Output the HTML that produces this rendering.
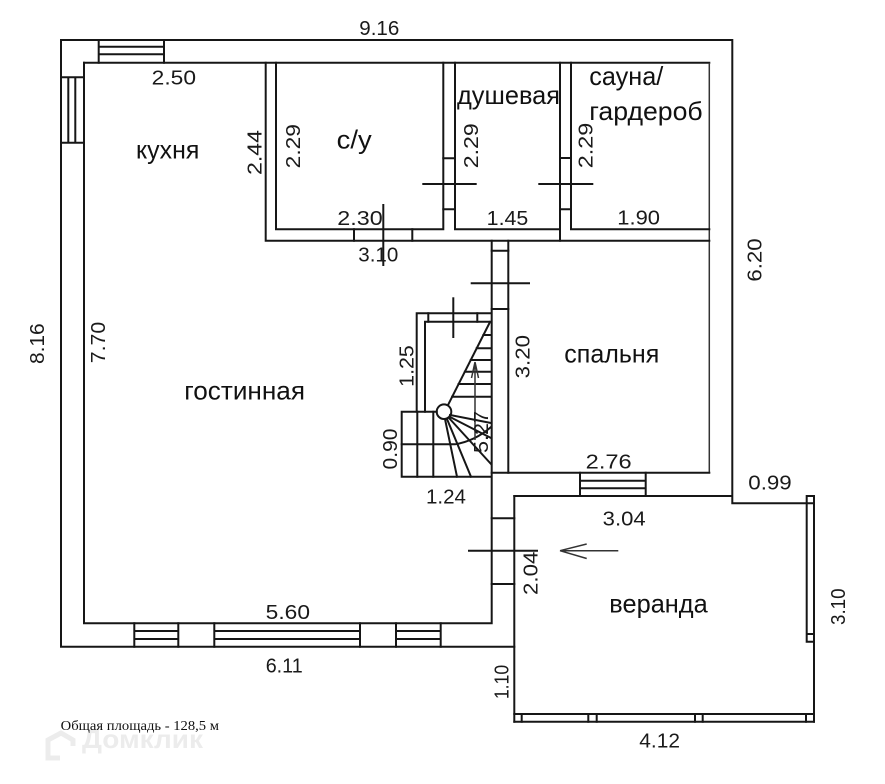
<!DOCTYPE html>
<html>
<head>
<meta charset="utf-8">
<style>
html,body{margin:0;padding:0;background:#fff;}
svg{display:block;}
.w{stroke:#161616;stroke-width:2;fill:none;stroke-linecap:square;}
.t{stroke:#333;stroke-width:1.5;fill:none;}
.d{font-family:"Liberation Sans","DejaVu Sans",sans-serif;font-size:20px;fill:#1a1a1a;}
.r{font-family:"Liberation Sans","Noto Sans CJK SC",sans-serif;font-size:26px;fill:#111;}
</style>
</head>
<body>
<svg width="885" height="784" viewBox="0 0 885 784" xmlns="http://www.w3.org/2000/svg">
<rect width="885" height="784" fill="#fff"/>

<!-- watermark -->
<g fill="none" stroke="#ececec" stroke-width="5">
  <path d="M48,746 L48,740 L61,733 L73,740 L73,746 M48,746 L48,758 L60,758"/>
</g>
<text x="82" y="748" font-family="Liberation Sans, sans-serif" font-weight="bold" font-size="26" fill="#ececec" textLength="121" lengthAdjust="spacingAndGlyphs">Домклик</text>

<!-- outer walls -->
<path class="w" d="M61,40 H732.3 V503.3 H814"/>
<path class="w" d="M61,40 V646.7 H514.3"/>
<path class="w" d="M84,62.7 H709.3"/>
<path class="w" d="M84,62.7 V623.3 H491.7 V240.7"/>
<path class="t" d="M709.3,62.7 V472.7"/>
<path class="w" d="M491.7,472.7 H709.3"/>
<path class="w" d="M508.3,240.7 V472.7"/>

<!-- kitchen / wc wall -->
<path class="w" d="M265.7,62.7 V240.7 H709.3"/>
<path class="w" d="M276,62.7 V229.3 H443.3 V62.7"/>
<path class="w" d="M455,62.7 V229.3 H560 V62.7"/>
<path class="w" d="M560,229.3 V240.7"/>
<path class="w" d="M571,62.7 V229.3 H709.3"/>
<!-- door ticks -->
<path class="w" d="M443.3,158.3 H455 M443.3,209.3 H455 M560,158 H571 M560,209.3 H571"/>
<path class="w" d="M423.3,184 H475.7 M539.3,184 H592.3"/>
<path class="w" d="M354,229.3 V240.7 M412.3,229.3 V240.7"/>
<path class="w" d="M383.3,205 V265"/>
<path class="w" d="M491.7,250.7 H508.3 M491.7,309 H508.3"/>
<path class="w" d="M471.7,283.3 H529"/>

<!-- windows -->
<path class="w" d="M98.7,40 V62.7 M164,40 V62.7 M98.7,46.7 H164 M98.7,54.3 H164"/>
<path class="w" d="M61,77.3 H84 M61,142.7 H84 M68.3,77.3 V142.7 M75.3,77.3 V142.7"/>
<path class="w" d="M134.3,623.3 V646.7 M178.3,623.3 V646.7 M134.3,631 H178.3 M134.3,639 H178.3"/>
<path class="w" d="M214.3,623.3 V646.7 M360,623.3 V646.7 M214.3,631 H360 M214.3,639 H360"/>
<path class="w" d="M396,623.3 V646.7 M440.7,623.3 V646.7 M396,631 H440.7 M396,639 H440.7"/>
<path class="w" d="M580,472.7 V496 M645.7,472.7 V496 M580,480.7 H645.7 M580,488.3 H645.7"/>

<!-- veranda -->
<path class="w" d="M514.3,496 H731.7"/>
<path class="w" d="M514.3,496 V721.7"/>
<path class="w" d="M491.7,518.3 H514.3 M491.7,584 H514.3"/>
<path class="w" d="M469,550.7 H537"/>
<path class="w" d="M806.7,496 H814 M806.7,496 V641.7 M814,496 V721.7 M806.7,634 H814 M806.7,641.7 H814"/>
<path class="w" d="M514.3,714 H814 M514.3,721.7 H814"/>
<path class="w" d="M521.7,714 V721.7 M588.3,714 V721.7 M596.7,714 V721.7 M695,714 V721.7 M702.7,714 V721.7 M806,714 V721.7"/>
<path class="t" d="M618.3,550.7 H560 M560,550.7 L586.7,544 M560,550.7 L586.7,558.5"/>

<!-- stairs -->
<path class="w" d="M416.7,411.7 V313.3 H491"/>
<path class="w" d="M425,411.7 V321.7 H491"/>
<path class="w" d="M428.3,313.3 V321.7 M477.3,313.3 V321.7"/>
<path class="w" d="M453.3,298.3 V337"/>
<path class="w" d="M490,322 L448,405"/>
<path class="w" d="M483.4,335 H491 M476.7,348.3 H491 M470.8,360 H491 M464.9,371.7 H491 M458.6,384 H491 M452.2,396.7 H491"/>
<circle cx="444" cy="411.7" r="7.3" fill="#fff" stroke="#161616" stroke-width="2"/>
<path class="w" d="M401.7,411.7 H436.7 M401.7,411.7 V476.7 H491"/>
<path class="w" d="M417.3,411.7 V476.7 M433.3,411.7 V476.7"/>
<path class="w" d="M401.7,444.3 H455 Q475,441 491,427"/>
<path class="w" d="M450,415 L491,423 M450,417 L491,438 M449,418 L491,464 M447,419 L471,476.7 M445,419 L457,476.7"/>
<path class="t" d="M475,362 V440 M475,362 L471.5,378 M475,362 L478.5,378"/>

<!-- horizontal dimension labels -->
<text class="d" x="359.3" y="35" textLength="40" lengthAdjust="spacingAndGlyphs">9.16</text>
<text class="d" x="151.7" y="84.3" textLength="44.3" lengthAdjust="spacingAndGlyphs">2.50</text>
<text class="d" x="337.3" y="225" textLength="45.4" lengthAdjust="spacingAndGlyphs">2.30</text>
<text class="d" x="486.7" y="225" textLength="41.6" lengthAdjust="spacingAndGlyphs">1.45</text>
<text class="d" x="617.3" y="224.5" textLength="42.7" lengthAdjust="spacingAndGlyphs">1.90</text>
<text class="d" x="358.3" y="261.7" textLength="40" lengthAdjust="spacingAndGlyphs">3.10</text>
<text class="d" x="585.7" y="468.3" textLength="46" lengthAdjust="spacingAndGlyphs">2.76</text>
<text class="d" x="426" y="503.3" textLength="40" lengthAdjust="spacingAndGlyphs">1.24</text>
<text class="d" x="748.3" y="489.3" textLength="43.4" lengthAdjust="spacingAndGlyphs">0.99</text>
<text class="d" x="602.7" y="525.7" textLength="43" lengthAdjust="spacingAndGlyphs">3.04</text>
<text class="d" x="265.7" y="619" textLength="44.3" lengthAdjust="spacingAndGlyphs">5.60</text>
<text class="d" x="265.7" y="672.3" textLength="37" lengthAdjust="spacingAndGlyphs">6.11</text>
<text class="d" x="639.3" y="747.3" textLength="40.7" lengthAdjust="spacingAndGlyphs">4.12</text>

<!-- vertical dimension labels -->
<text class="d" text-anchor="middle" transform="translate(261.7,152.5) rotate(-90)" textLength="45" lengthAdjust="spacingAndGlyphs">2.44</text>
<text class="d" text-anchor="middle" transform="translate(300,146.2) rotate(-90)" textLength="44.3" lengthAdjust="spacingAndGlyphs">2.29</text>
<text class="d" text-anchor="middle" transform="translate(478,145.8) rotate(-90)" textLength="45" lengthAdjust="spacingAndGlyphs">2.29</text>
<text class="d" text-anchor="middle" transform="translate(592.5,145.5) rotate(-90)" textLength="45.6" lengthAdjust="spacingAndGlyphs">2.29</text>
<text class="d" text-anchor="middle" transform="translate(761.7,260) rotate(-90)" textLength="43.4" lengthAdjust="spacingAndGlyphs">6.20</text>
<text class="d" text-anchor="middle" transform="translate(44,343.7) rotate(-90)" textLength="40.7" lengthAdjust="spacingAndGlyphs">8.16</text>
<text class="d" text-anchor="middle" transform="translate(105,342.5) rotate(-90)" textLength="41.6" lengthAdjust="spacingAndGlyphs">7.70</text>
<text class="d" text-anchor="middle" transform="translate(413.5,366) rotate(-90)" textLength="41.7" lengthAdjust="spacingAndGlyphs">1.25</text>
<text class="d" text-anchor="middle" transform="translate(529.5,356.7) rotate(-90)" textLength="43.3" lengthAdjust="spacingAndGlyphs">3.20</text>
<text class="d" text-anchor="middle" transform="translate(397,449) rotate(-90)" textLength="41" lengthAdjust="spacingAndGlyphs">0.90</text>
<text class="d" text-anchor="middle" transform="translate(488,432) rotate(-90)" textLength="42" lengthAdjust="spacingAndGlyphs">5.27</text>
<text class="d" text-anchor="middle" transform="translate(537.3,573.3) rotate(-90)" textLength="43.3" lengthAdjust="spacingAndGlyphs">2.04</text>
<text class="d" text-anchor="middle" transform="translate(845,606.7) rotate(-90)" textLength="36.7" lengthAdjust="spacingAndGlyphs">3.10</text>
<text class="d" text-anchor="middle" transform="translate(508.3,682) rotate(-90)" textLength="34.3" lengthAdjust="spacingAndGlyphs">1.10</text>

<!-- room labels -->
<text class="r" x="136" y="158.3" textLength="63.3" lengthAdjust="spacingAndGlyphs">кухня</text>
<text class="r" x="336.7" y="148.3" textLength="35" lengthAdjust="spacingAndGlyphs">с/у</text>
<text class="r" x="457" y="104" textLength="103" lengthAdjust="spacingAndGlyphs">душевая</text>
<text class="r" x="589.3" y="85" textLength="74" lengthAdjust="spacingAndGlyphs">сауна/</text>
<text class="r" x="589.3" y="120" textLength="113.4" lengthAdjust="spacingAndGlyphs">гардероб</text>
<text class="r" x="184.3" y="399.3" textLength="120.7" lengthAdjust="spacingAndGlyphs">гостинная</text>
<text class="r" x="564.3" y="362.7" textLength="95" lengthAdjust="spacingAndGlyphs">спальня</text>
<text class="r" x="609.3" y="612.7" textLength="98.4" lengthAdjust="spacingAndGlyphs">веранда</text>

<!-- footer -->
<text x="60.7" y="730" font-family="Liberation Serif, serif" font-size="14" fill="#111" textLength="158.3" lengthAdjust="spacingAndGlyphs">Общая площадь - 128,5 м</text>
</svg>
</body>
</html>
